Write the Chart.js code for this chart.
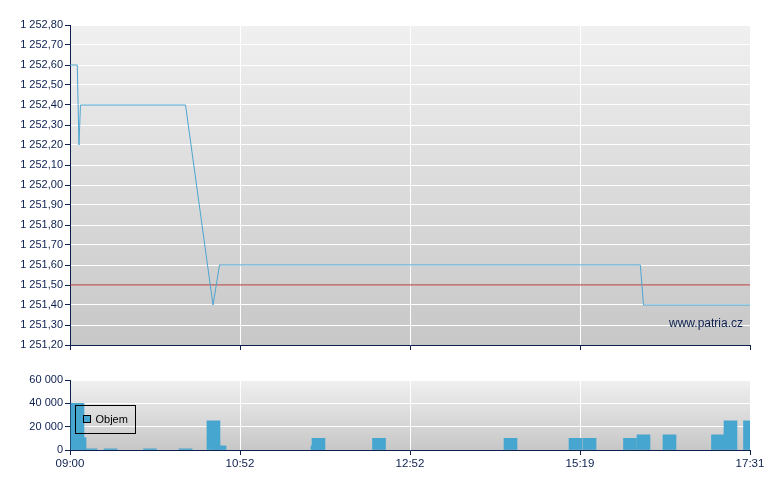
<!DOCTYPE html>
<html>
<head>
<meta charset="utf-8">
<script src="https://cdn.jsdelivr.net/npm/chart.js@4.4.1/dist/chart.umd.min.js"></script>
<style>
  body { margin: 0; background: #fff; }
  #wrap { position: relative; width: 780px; height: 490px; }
  #price { position: absolute; left: 0; top: 0; }
  #volume { position: absolute; left: 0; top: 360px; }
</style>
</head>
<body>
<div id="wrap">
  <canvas id="price" width="780" height="360"></canvas>
  <canvas id="volume" width="780" height="130"></canvas>
</div>
<script>
// session position (0 = open, 100 = close) and tick labels of the time axis
const timeTicks = [0, 25, 50, 75, 100];
const timeLabels = ["09:00", "10:52", "12:52", "15:19", "17:31"];

// price line
const priceX = [0, 1.07, 1.32, 1.54, 16.99, 21.03, 21.99, 83.87, 84.34, 100];
const priceY = [1252.6, 1252.6, 1252.2, 1252.4, 1252.4, 1251.4, 1251.6, 1251.6, 1251.4, 1251.4];
const refPrice = 1251.5;
const priceTicks = [1251.2, 1251.3, 1251.4, 1251.5, 1251.6, 1251.7, 1251.8, 1251.9, 1252.0,
  1252.1, 1252.2, 1252.3, 1252.4, 1252.5, 1252.6, 1252.7, 1252.8];

// volume bars
const volX = [1.10, 1.40, 3.01, 5.96, 11.76, 16.99, 21.10, 21.99, 36.40, 36.54, 45.44,
  64.78, 74.34, 76.40, 82.35, 84.34, 88.16, 95.29, 97.13, 100];
const volY = [40000, 10500, 1000, 1000, 1000, 1000, 25000, 3500, 3500, 10000, 10000,
  10000, 10000, 10000, 10000, 13000, 13000, 13000, 25000, 25000];
const volTicks = [0, 20000, 40000, 60000];

const navy = "#0c1f4f";
const font = { family: "'Liberation Sans', Arial, sans-serif", size: 11 };

function spaced(s) {
  return s.replace(/\B(?=(\d{3})+(?!\d))/g, " ");
}
function fmtPrice(v) {
  const parts = v.toFixed(2).split(".");
  return spaced(parts[0]) + "," + parts[1];
}

const plotBg = {
  id: "plotBg",
  beforeDraw(chart) {
    const a = chart.chartArea, ctx = chart.ctx;
    const g = ctx.createLinearGradient(0, a.top, 0, a.bottom);
    g.addColorStop(0, "#f0f0f0");
    g.addColorStop(1, "#c7c7c7");
    ctx.save();
    ctx.fillStyle = g;
    ctx.fillRect(a.left, a.top, a.right - a.left, a.bottom - a.top);
    ctx.restore();
  }
};

function timeAxis(showLabels, height) {
  return {
    type: "linear",
    min: 0,
    max: 100,
    offset: false,
    afterBuildTicks: s => { s.ticks = timeTicks.map(v => ({ value: v })); },
    afterFit: s => { s.height = height; },
    grid: { color: "#ffffff", lineWidth: 1, tickColor: navy, tickLength: 5, offset: false },
    border: { color: navy, width: 1 },
    ticks: {
      display: showLabels,
      autoSkip: false,
      maxRotation: 0,
      padding: 2,
      color: navy,
      font: { family: font.family, size: 11.5 },
      callback: (v, i) => timeLabels[i]
    }
  };
}

new Chart(document.getElementById("price"), {
  type: "line",
  data: {
    datasets: [
      {
        data: priceX.map((x, i) => ({ x: x, y: priceY[i] })),
        borderColor: "#4da5d0",
        borderWidth: 1,
        pointRadius: 0,
        tension: 0,
        fill: false
      },
      {
        data: [{ x: 0, y: refPrice }, { x: 100, y: refPrice }],
        borderColor: "#a52a26",
        borderWidth: 1,
        pointRadius: 0,
        fill: false
      }
    ]
  },
  options: {
    responsive: false,
    animation: false,
    layout: { padding: { top: 25, right: 30, left: 0, bottom: 0 } },
    plugins: { legend: { display: false }, tooltip: { enabled: false } },
    scales: {
      x: timeAxis(false, 15),
      y: {
        min: 1251.2,
        max: 1252.8,
        afterBuildTicks: s => { s.ticks = priceTicks.map(v => ({ value: v })); },
        afterFit: s => { s.width = 70; },
        grid: { color: "#ffffff", lineWidth: 1, tickColor: navy, tickLength: 5 },
        border: { color: navy, width: 1 },
        ticks: { color: navy, font: font, padding: 2, callback: v => fmtPrice(v) }
      }
    }
  },
  plugins: [plotBg, {
    id: "watermark",
    afterDraw(chart) {
      const ctx = chart.ctx;
      ctx.save();
      ctx.font = "12px 'Liberation Sans', Arial, sans-serif";
      ctx.fillStyle = navy;
      ctx.textAlign = "right";
      ctx.textBaseline = "middle";
      ctx.fillText("www.patria.cz", chart.chartArea.right - 7, chart.chartArea.bottom - 21);
      ctx.restore();
    }
  }]
});

new Chart(document.getElementById("volume"), {
  type: "bar",
  data: {
    datasets: [{
      label: "Objem",
      data: volX.map((x, i) => ({ x: x, y: volY[i] })),
      backgroundColor: "#47a6cf",
      borderWidth: 0,
      barThickness: 13,
      clip: 0
    }]
  },
  options: {
    responsive: false,
    animation: false,
    layout: { padding: { top: 20, right: 30, left: 0, bottom: 0 } },
    plugins: { legend: { display: false }, tooltip: { enabled: false } },
    scales: {
      x: timeAxis(true, 40),
      y: {
        min: 0,
        max: 60000,
        afterBuildTicks: s => { s.ticks = volTicks.map(v => ({ value: v })); },
        afterFit: s => { s.width = 70; },
        grid: { color: "#ffffff", lineWidth: 1, tickColor: navy, tickLength: 5 },
        border: { color: navy, width: 1 },
        ticks: { color: navy, font: font, padding: 2, callback: v => spaced(String(v)) }
      }
    }
  },
  plugins: [plotBg, {
    id: "boxLegend",
    afterDraw(chart) {
      const ctx = chart.ctx, a = chart.chartArea;
      const x = a.left + 5.5, y = a.top + 25.5;
      ctx.save();
      ctx.strokeStyle = "#000000";
      ctx.lineWidth = 1;
      ctx.strokeRect(x, y, 60, 28);
      ctx.fillStyle = "#47a6cf";
      ctx.fillRect(x + 8, y + 10, 7, 7);
      ctx.strokeRect(x + 8, y + 10, 7, 7);
      ctx.fillStyle = "#000000";
      ctx.font = "11px 'Liberation Sans', Arial, sans-serif";
      ctx.textBaseline = "middle";
      ctx.fillText(chart.data.datasets[0].label, x + 20, y + 14);
      ctx.restore();
    }
  }]
});
</script>
</body>
</html>
